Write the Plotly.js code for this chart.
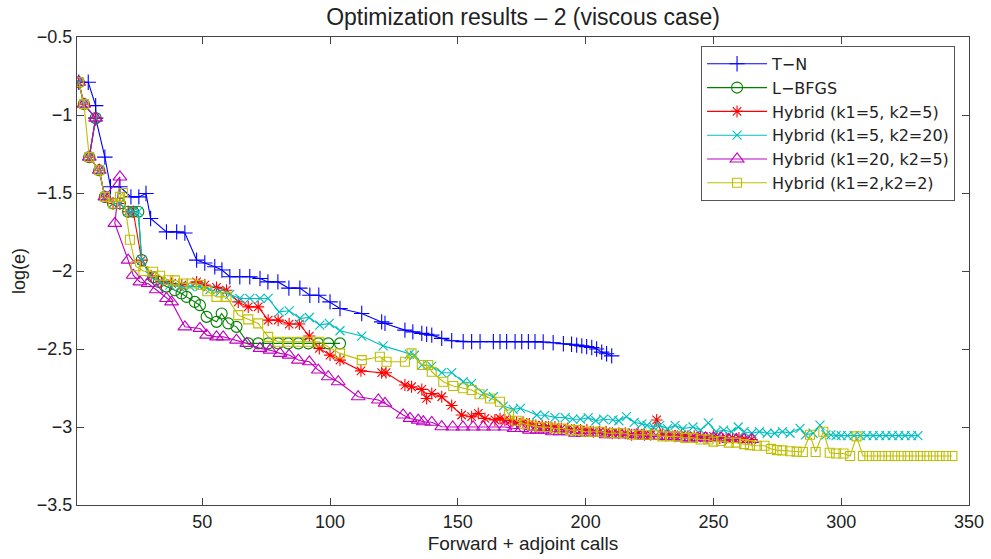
<!DOCTYPE html>
<html>
<head>
<meta charset="utf-8">
<script src="https://cdn.plot.ly/plotly-3.0.1.min.js"></script>
<style>html,body{margin:0;padding:0;background:#fff;}#chart{width:991px;height:559px;}</style>
</head>
<body>
<div id="chart"></div>
<script>
// ---- data ----
const seriesNames = ["T\u2212N", "L\u2212BFGS", "Hybrid (k1=5, k2=5)", "Hybrid (k1=5, k2=20)", "Hybrid (k1=20, k2=5)", "Hybrid (k1=2,k2=2)"];

const tnX = [1.7,5.4,8.3,8.3,11.9,14.1,17.8,22.1,25.2,28.0,29.8,36.0,40.0,43.2,47.8,51.0,54.9,57.7,60.8,64.7,68.6,72.6,75.7,79.6,83.9,88.2,92.1,95.6,100.0,103.9,112.4,120.2,121.5,129.3,132.4,135.9,137.8,139.8,143.7,147.6,152.1,155.4,158.7,163.9,166.5,169.1,172.4,175.0,177.6,180.2,183.4,187.3,191.3,194.5,196.5,198.5,200.4,202.4,204.3,206.3,208.2,210.2];
const tnY = [-0.79,-0.79,-0.94,-1.02,-1.27,-1.46,-1.46,-1.525,-1.525,-1.503,-1.663,-1.749,-1.749,-1.756,-1.93,-1.949,-1.973,-1.994,-2.037,-2.037,-2.037,-2.048,-2.07,-2.07,-2.11,-2.11,-2.155,-2.155,-2.198,-2.24,-2.272,-2.326,-2.336,-2.379,-2.39,-2.40,-2.405,-2.411,-2.432,-2.447,-2.453,-2.453,-2.453,-2.453,-2.453,-2.453,-2.453,-2.453,-2.453,-2.453,-2.455,-2.46,-2.466,-2.47,-2.475,-2.48,-2.485,-2.49,-2.50,-2.52,-2.53,-2.544];

const lbX = [1.7,3.7,8.3,5.8,9.7,11.9,15.1,17.8,21.0,23.0,25.0,26.3,30.8,33.0,36.0,39.3,41.9,43.9,47.1,49.1,51.7,55.6,57.6,60.2,63.4,68.0,71.9,75.8,79.7,83.6,87.6,91.5,95.4,99.3,103.9];
const lbY = [-0.79,-0.93,-1.02,-1.27,-1.354,-1.525,-1.567,-1.567,-1.62,-1.62,-1.62,-1.93,-2.04,-2.07,-2.10,-2.123,-2.144,-2.166,-2.198,-2.219,-2.294,-2.326,-2.272,-2.336,-2.358,-2.464,-2.464,-2.464,-2.464,-2.464,-2.464,-2.464,-2.464,-2.464,-2.464];

const h55X = [1.7,3.7,8.3,5.8,9.7,11.9,15.1,17.8,21.0,23.0,26.3,30.0,34.0,38.0,42.0,47.8,51.0,55.6,59.5,64.1,68.0,71.9,75.8,79.7,84.0,88.0,91.9,95.8,100.0,103.9,112.1,120.2,121.9,129.3,131.9,135.9,137.8,139.8,143.7,147.6,151.5,155.4,158.0,160.6,164.5,166.5,168.4,170.5,173,175.5,178,180.5,183,185.5,188,190.5,193,195.5,198,200.5,203,205.5,208,210.5,213,215.5,218,220.5,223,225.5,227.8,230,232.5,235,237.5,240,242.5,245,247.5,250,252.5,255,257.5,260,262.5,265];
const h55Y = [-0.79,-0.93,-1.02,-1.27,-1.354,-1.525,-1.567,-1.567,-1.62,-1.62,-1.93,-2.03,-2.07,-2.08,-2.09,-2.07,-2.09,-2.105,-2.123,-2.198,-2.23,-2.23,-2.315,-2.315,-2.34,-2.34,-2.417,-2.496,-2.539,-2.571,-2.64,-2.652,-2.652,-2.731,-2.742,-2.759,-2.817,-2.785,-2.806,-2.862,-2.923,-2.934,-2.913,-2.945,-2.955,-2.945,-2.955,-2.96,-2.97,-2.97,-2.98,-2.99,-2.99,-3.0,-3.0,-3.01,-3.01,-3.02,-3.02,-3.02,-3.03,-3.03,-3.03,-3.04,-3.04,-3.04,-3.05,-3.04,-3.05,-3.05,-2.955,-3.05,-3.05,-3.06,-3.05,-3.06,-3.06,-3.06,-3.07,-3.06,-3.07,-3.07,-3.07,-3.07,-3.08,-3.08];

const h520X = [1.7,3.7,8.3,5.8,9.7,11.9,15.1,17.8,21.0,23.0,25.0,26.3,29.5,33.4,37.3,41.2,45.2,49.1,53.0,56.9,60.8,64.7,68.6,72.6,75.8,80.1,84.0,88.2,91.9,96.0,99.7,103.9,112.4,120.8,131.0,133.0,135.9,139.8,143.7,147.6,152.1,155.4,160.0,163.9,167.8,171.7,174.5,180.9,184,188,192,195,198,201,204,207,210.7,213,216,219,222,224,226.5,229,232,235,238,242,245,248,251,254,257,259.7,262,265,268,271,274,277,280,283.9,286,289,291.7,294,296,298,300,302.5,305,307.5,310,312.5,315,317.5,320,322.5,325,327.5,330];
const h520Y = [-0.79,-0.93,-1.02,-1.27,-1.354,-1.525,-1.567,-1.567,-1.62,-1.62,-1.62,-1.93,-2.03,-2.07,-2.09,-2.10,-2.10,-2.10,-2.12,-2.134,-2.15,-2.176,-2.176,-2.176,-2.176,-2.262,-2.255,-2.304,-2.298,-2.347,-2.336,-2.383,-2.417,-2.48,-2.533,-2.54,-2.603,-2.61,-2.652,-2.652,-2.71,-2.72,-2.784,-2.806,-2.866,-2.887,-2.88,-2.923,-2.925,-2.938,-2.94,-2.95,-2.95,-2.94,-2.96,-2.95,-2.955,-2.96,-2.934,-2.97,-2.98,-2.99,-3.0,-2.99,-3.01,-2.99,-3.01,-3.0,-3.02,-2.973,-3.03,-3.02,-3.03,-3.0,-3.03,-3.04,-3.03,-3.04,-3.04,-3.03,-3.04,-3.009,-3.05,-3.04,-2.988,-3.05,-3.05,-3.055,-3.055,-3.055,-3.055,-3.055,-3.055,-3.055,-3.055,-3.055,-3.055,-3.055,-3.055,-3.055,-3.055];

const h205X = [1.7,3.7,8.3,5.8,9.7,11.9,17.8,15.8,21.0,23.0,25.6,28.8,32.0,36.0,38.0,43.2,49.1,51.7,55.6,58.2,63.4,67.4,72.6,76.5,80.4,84.0,87.6,91.9,95.4,99.3,103.2,111.0,118.9,121.5,128.6,131.3,134.5,136.5,139.8,143.7,148,152,156,160,164,168.5,172,175,178,181,184,187,190,193,196,199,202,205,208,211,214,217,220,223,226,229,232,235,238,241,244,247,250,253,256,259,262,265];
const h205Y = [-0.79,-0.93,-1.02,-1.27,-1.354,-1.525,-1.397,-1.695,-1.93,-2.027,-2.07,-2.08,-2.12,-2.176,-2.198,-2.358,-2.368,-2.411,-2.422,-2.422,-2.443,-2.464,-2.496,-2.507,-2.528,-2.539,-2.571,-2.582,-2.635,-2.678,-2.71,-2.806,-2.827,-2.848,-2.923,-2.945,-2.956,-2.966,-2.97,-2.998,-3.0,-3.0,-3.0,-3.0,-3.0,-3.0,-3.01,-3.01,-3.02,-3.02,-3.02,-3.03,-3.03,-3.03,-3.04,-3.04,-3.04,-3.04,-3.05,-3.05,-3.05,-3.05,-3.05,-3.06,-3.06,-3.06,-3.06,-3.06,-3.07,-3.07,-3.07,-3.07,-3.07,-3.07,-3.08,-3.08,-3.08,-3.08];

const h22X = [1.7,3.7,5.8,9.7,11.9,15.1,17.8,19.0,21.7,24.0,27.0,30.8,33.5,36.7,39.3,42.5,45.8,49.5,52.0,55.6,59.5,64.1,68.0,71.9,75.8,79.7,83.6,87.6,91.5,95.8,103.9,112.4,119.5,122.1,129.3,131.9,135.9,138.4,139.8,144.3,148.2,152.1,155.4,158.5,162.6,166.5,170,173,176,179,182,185,188,191,194,197,200,203,206,209,212,215,218,221,224,227,230,233,236,239,242,245,248,250,253,256,259,262,264.3,267,270,272.5,274.8,277,280,282.6,285,287.8,290,293,295.5,298,300.9,303.5,306,308.5,311,313.5,316,318.5,321,323.5,326,328.5,331,333.5,336,338.5,341,343.5,345.3];
const h22Y = [-0.79,-0.93,-1.27,-1.354,-1.525,-1.567,-1.525,-1.50,-1.80,-1.97,-2.0,-2.005,-2.03,-2.059,-2.06,-2.08,-2.08,-2.09,-2.13,-2.166,-2.166,-2.283,-2.31,-2.336,-2.422,-2.454,-2.454,-2.454,-2.454,-2.454,-2.528,-2.571,-2.55,-2.582,-2.582,-2.528,-2.603,-2.603,-2.646,-2.71,-2.737,-2.752,-2.763,-2.79,-2.817,-2.838,-2.92,-2.96,-2.98,-2.99,-3.0,-3.0,-3.01,-3.01,-3.02,-3.02,-3.03,-3.03,-3.03,-3.04,-3.04,-3.04,-3.05,-3.05,-3.05,-3.05,-3.06,-3.06,-3.06,-3.07,-3.07,-3.08,-3.08,-3.094,-3.09,-3.10,-3.10,-3.11,-3.116,-3.12,-3.12,-3.14,-3.148,-3.15,-3.155,-3.158,-3.16,-3.05,-3.16,-3.03,-3.165,-3.17,-3.17,-3.186,-3.06,-3.186,-3.186,-3.186,-3.186,-3.186,-3.186,-3.186,-3.186,-3.186,-3.186,-3.186,-3.186,-3.186,-3.186,-3.186];

const xTickVals = [50,100,150,200,250,300,350];
const yTickVals = [-3.5,-3,-2.5,-2,-1.5,-1,-0.5];
const yTickText = ["\u22123.5","\u22123","\u22122.5","\u22122","\u22121.5","\u22121","\u22120.5"];

// ---- styles ----
const colors = ["#0000ff","#008000","#ff0000","#00bfbf","#bf00bf","#bfbf00"];
const symbols = ["cross-thin-open","circle-open","asterisk-open","x-thin-open","triangle-up-open","square-open"];
const sizes = [11,11,10,9,12,9];
const xs = [tnX,lbX,h55X,h520X,h205X,h22X];
const ys = [tnY,lbY,h55Y,h520Y,h205Y,h22Y];

const traces = xs.map((x,i)=>({
  x: x, y: ys[i], name: seriesNames[i], type: "scatter", mode: "lines+markers",
  line: {color: colors[i], width: 1.1},
  marker: {symbol: symbols[i], size: sizes[i], color: colors[i], line: {color: colors[i], width: 1.1}}
}));

const font = "Liberation Sans, Arial, Helvetica, sans-serif";
const layout = {
  width: 991, height: 559,
  margin: {l: 77, r: 22, t: 37, b: 54},
  paper_bgcolor: "#ffffff", plot_bgcolor: "#ffffff",
  font: {family: font, size: 18, color: "#222"},
  title: {text: "Optimization results \u2013 2 (viscous case)", x: 0.5, xref: "paper", y: 0.969, yanchor: "middle", font: {size: 23, color: "#222"}},
  xaxis: {range: [1, 350], tickvals: xTickVals, ticks: "inside", ticklen: 7, tickcolor: "#444",
          showline: true, linecolor: "#444", linewidth: 1, mirror: "ticks", showgrid: false, zeroline: false,
          title: {text: "Forward + adjoint calls", standoff: 6, font: {size: 19}}, tickfont: {size: 18}},
  yaxis: {range: [-3.5, -0.5], tickvals: yTickVals, ticktext: yTickText, ticks: "inside", ticklen: 7, tickcolor: "#444",
          showline: true, linecolor: "#444", linewidth: 1, mirror: "ticks", showgrid: false, zeroline: false,
          title: {text: "log(e)", standoff: 6, font: {size: 18}}, tickfont: {size: 18}},
  legend: {x: 0.6996, y: 0.981, xanchor: "left", yanchor: "top", bgcolor: "#ffffff", bordercolor: "#555", borderwidth: 1,
           font: {family: "DejaVu Sans, Liberation Sans, sans-serif", size: 16, color: "#222"}, tracegroupgap: 0, itemwidth: 60},
  showlegend: true
};

Plotly.newPlot("chart", traces, layout, {staticPlot: true, displayModeBar: false});
</script>
</body>
</html>
